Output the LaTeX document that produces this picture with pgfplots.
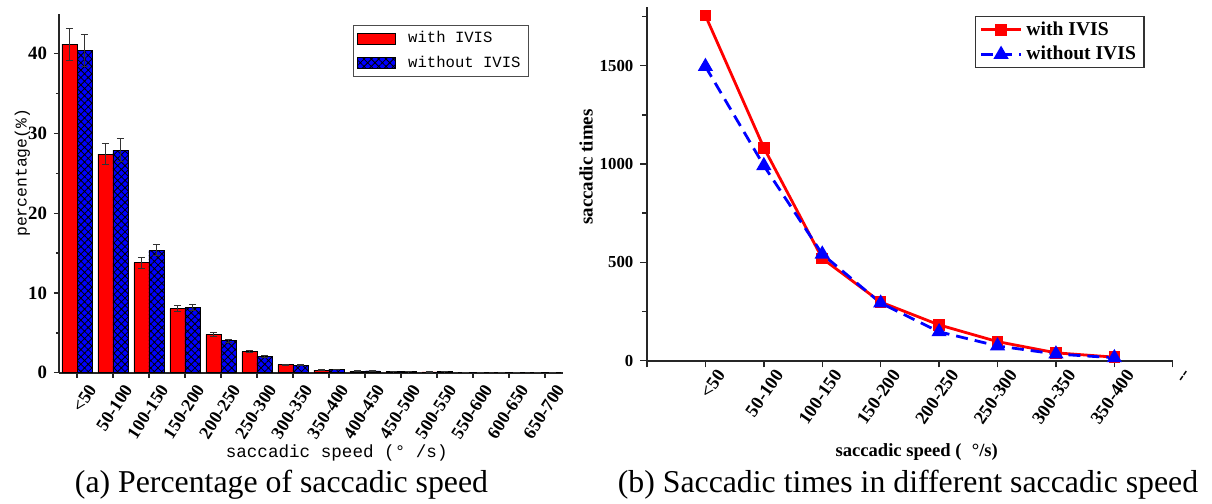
\documentclass[border=0pt]{standalone}
\usepackage{pgfplots}
\pgfplotsset{compat=1.18}
\usetikzlibrary{patterns.meta}
\usepackage{fontspec}
\setmainfont{Liberation Serif}
\newfontfamily\monofont{Liberation Mono}
\begin{document}
\begin{tikzpicture}[x=1pt,y=1pt]
\path[use as bounding box] (0,0) rectangle (606,252);
\begin{axis}[
  at={(29.5pt,65.65pt)}, anchor=south west,
  scale only axis, width=252pt, height=179.4pt,
  xmin=-0.5, xmax=13.5, ymin=0, ymax=45,
  axis x line*=bottom, axis y line*=left,
  axis line style={line width=0.9pt, black!85},
  tick style={line width=0.7pt, black!85},
  tick align=outside, major tick length=2.5pt, minor tick length=1.6pt,
  ytick={0,10,20,30,40}, minor ytick={5,15,25,35},
  xtick={0,...,13},
  xticklabels={<50,50-100,100-150,150-200,200-250,250-300,300-350,350-400,400-450,450-500,500-550,550-600,600-650,650-700},
  x tick label style={xshift=8.5pt, yshift=-3pt, rotate=57, anchor=east, font=\bfseries\fontsize{9}{10}\selectfont, inner sep=1.5pt},
  y tick label style={font=\bfseries\fontsize{9.4}{10}\selectfont},
  /pgf/number format/assume math mode=true,
  ybar=0pt, bar width=7.5pt,
  xlabel={\monofont\fontsize{8.8}{10}\selectfont saccadic speed (° /s)},
  every axis x label/.style={at={(axis description cs:0.551,-0.224)}, anchor=center},
  ylabel={\monofont\fontsize{8.2}{10}\selectfont percentage(\%)},
  every axis y label/.style={at={(axis description cs:-0.0724,0.557)}, anchor=center, rotate=90},
  legend style={at={(rel axis cs:0.583,0.969)}, anchor=north west, draw=black!70, line width=0.6pt,
    font=\monofont\fontsize{7.8}{9}\selectfont, inner xsep=2pt, inner ysep=1pt, row sep=1pt},
  legend cell align=left,
  legend image code/.code={\draw[#1, line width=0.4pt] (1pt,-2.8pt) rectangle (20pt,2.8pt); \path (24pt,0pt);},
]
\addplot[fill=red, draw=black, line width=0.4pt,
  error bars/.cd, y dir=both, y explicit,
  error bar style={line width=0.5pt, black!80},
  error mark options={rotate=90, mark size=1.8pt, line width=0.5pt, black!80}]
coordinates {
(0,41.2) +- (0,2.0)
(1,27.4) +- (0,1.35)
(2,13.8) +- (0,0.7)
(3,8.05) +- (0,0.35)
(4,4.8) +- (0,0.25)
(5,2.62) +- (0,0.12)
(6,1.0) +- (0,0.06)
(7,0.32) +- (0,0.04)
(8,0.2) +- (0,0.03)
(9,0.15) +- (0,0.02)
(10,0.1) +- (0,0.02)
(11,0.05) +- (0,0.01)
(12,0.03) +- (0,0.01)
(13,0.02) +- (0,0.01)
};
\addplot[fill=blue, draw=black, line width=0.4pt,
  postaction={pattern={Hatch[angle=45,distance=2.6pt,line width=0.4pt]}, pattern color=black},
  error bars/.cd, y dir=both, y explicit,
  error bar style={line width=0.5pt, black!80},
  error mark options={rotate=90, mark size=1.8pt, line width=0.5pt, black!80}]
coordinates {
(0,40.4) +- (0,2.0)
(1,27.9) +- (0,1.45)
(2,15.35) +- (0,0.7)
(3,8.15) +- (0,0.35)
(4,4.0) +- (0,0.2)
(5,2.05) +- (0,0.1)
(6,0.93) +- (0,0.05)
(7,0.42) +- (0,0.04)
(8,0.22) +- (0,0.03)
(9,0.14) +- (0,0.02)
(10,0.15) +- (0,0.02)
(11,0.06) +- (0,0.01)
(12,0.04) +- (0,0.01)
(13,0.02) +- (0,0.01)
};
\legend{with IVIS, without IVIS}
\end{axis}

\begin{axis}[
  at={(323.5pt,71.65pt)}, anchor=south west,
  scale only axis, width=262.9pt, height=177pt,
  xmin=0, xmax=9, ymin=0, ymax=1800,
  axis x line*=bottom, axis y line*=left,
  axis line style={line width=0.9pt, black!85},
  tick style={line width=0.7pt, black!85},
  tick align=outside, major tick length=3.3pt, minor tick length=2.3pt,
  ytick={0,500,1000,1500}, minor ytick={250,750,1250,1750},
  xtick={0,...,9},
  xticklabels={,<50,50-100,100-150,150-200,200-250,250-300,300-350,350-400,-{}-},
  x tick label style={xshift=9pt, yshift=-0.5pt, rotate=55, anchor=east, font=\bfseries\fontsize{9.2}{10}\selectfont, inner sep=2pt},
  y tick label style={font=\bfseries\fontsize{8.4}{10}\selectfont},
  /pgf/number format/assume math mode=true,
  /pgf/number format/1000 sep={},
  xlabel={\bfseries\fontsize{9.3}{10}\selectfont saccadic speed\hspace{0.25em}(\hspace{0.55em}°/s)},
  every axis x label/.style={at={(axis description cs:0.513,-0.257)}, anchor=center},
  ylabel={\bfseries\fontsize{9.5}{10}\selectfont saccadic times},
  every axis y label/.style={at={(axis description cs:-0.116,0.547)}, anchor=center, rotate=90},
  legend style={at={(rel axis cs:0.624,0.974)}, anchor=north west, draw=black!80, line width=0.6pt,
    font=\bfseries\fontsize{9.8}{11}\selectfont, inner xsep=2pt, inner ysep=0.5pt, row sep=0pt},
  legend cell align=left,
  legend image code/.code={\draw[mark repeat=2, mark phase=2, #1] plot coordinates {(0pt,0pt) (10pt,0pt) (20pt,0pt)};},
]
\addplot[red, line width=1.4pt, mark=square*, mark size=2.2pt, mark options={solid}]
coordinates {
(1,1755) (2,1083) (3,520) (4,298) (5,182) (6,97) (7,40) (8,18)
};
\addplot[blue, line width=1.4pt, dash pattern=on 6pt off 3.5pt, mark=triangle*, mark size=3pt, mark options={solid}]
coordinates {
(1,1496) (2,992) (3,542) (4,293) (5,147) (6,75) (7,34) (8,15)
};
\legend{with IVIS, without IVIS}
\end{axis}

\node[font=\fontsize{15.9}{18}\selectfont] at (140.75,9.5) {(a) Percentage of saccadic speed};
\node[font=\fontsize{15.9}{18}\selectfont] at (454,9.5) {(b) Saccadic times in different saccadic speed};
\end{tikzpicture}
\end{document}
